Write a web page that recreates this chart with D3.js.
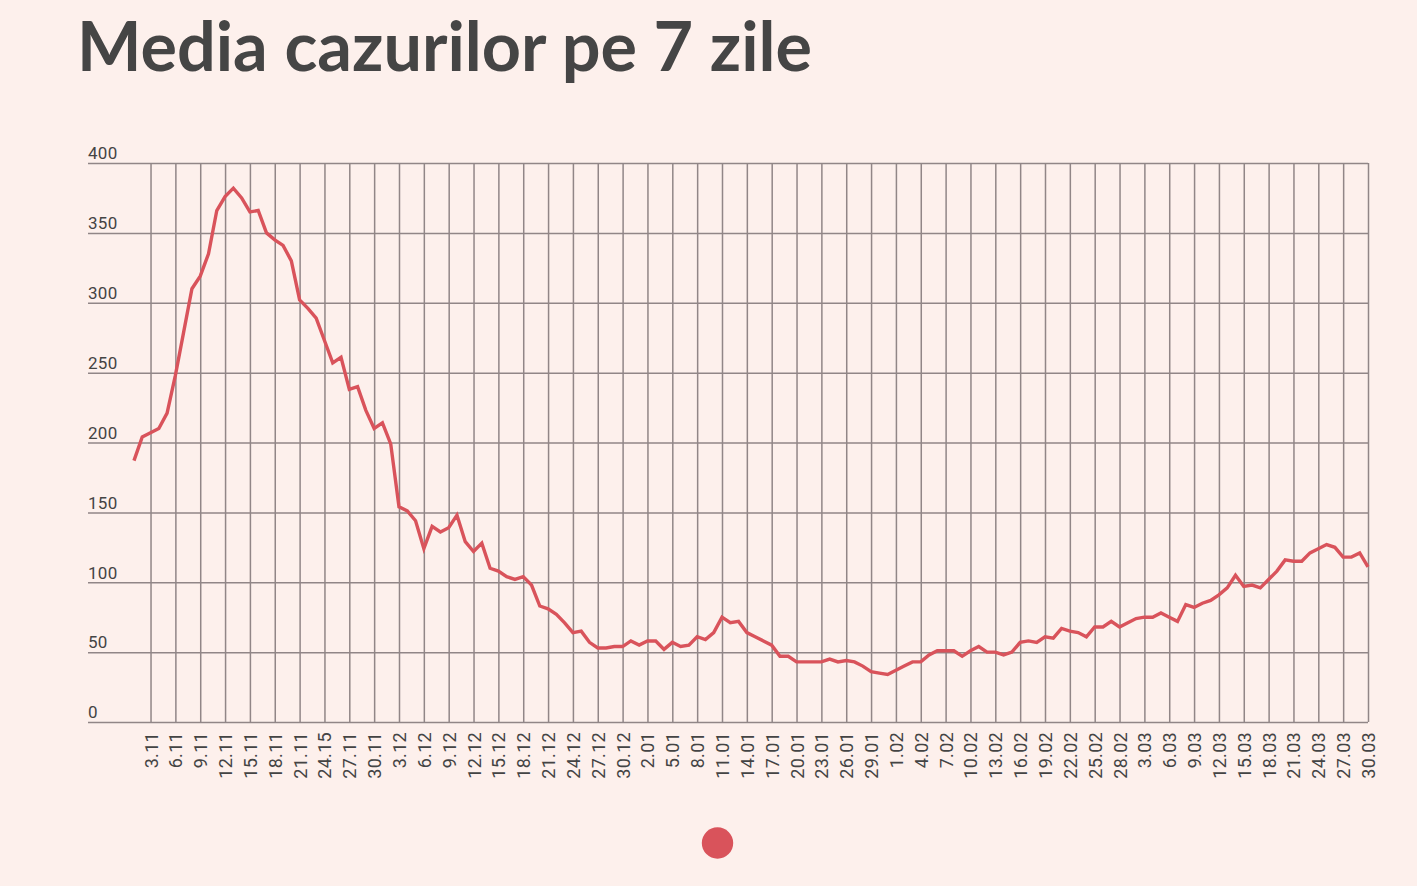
<!DOCTYPE html>
<html>
<head>
<meta charset="utf-8">
<script src="https://cdn.jsdelivr.net/npm/d3@7/dist/d3.min.js"></script>
<style>
  html, body { margin: 0; padding: 0; background: #fdf0ec; }
  svg { display: block; }
</style>
</head>
<body>
<svg id="chart" width="1417" height="886"></svg>
<script>
// ---- data ----
const title = "Media cazurilor pe 7 zile";
const values = [
  187, 204, 207, 210, 221, 248, 279, 310, 319, 335,
  366, 376, 382, 375, 365, 366, 350, 345, 341, 330,
  302, 296, 289, 273, 257, 261, 238, 240, 223, 210,
  214, 199, 154, 151, 144, 124, 140, 136, 139, 148,
  129, 122, 128, 110, 108, 104, 102, 104, 98, 83,
  81, 77, 71, 64, 65, 57, 53, 53, 54, 54,
  58, 55, 58, 58, 52, 57, 54, 55, 61, 59,
  64, 75, 71, 72, 64, 61, 58, 55, 47, 47,
  43, 43, 43, 43, 45, 43, 44, 43, 40, 36,
  35, 34, 37, 40, 43, 43, 48, 51, 51, 51,
  47, 51, 54, 50, 50, 48, 50, 57, 58, 57,
  61, 60, 67, 65, 64, 61, 68, 68, 72, 68,
  71, 74, 75, 75, 78, 75, 72, 84, 82, 85,
  87, 91, 96, 105, 97, 98, 96, 102, 108, 116,
  115, 115, 121, 124, 127, 125, 118, 118, 121, 111
];
const tickLabels = [
  "3.11","6.11","9.11","12.11","15.11","18.11","21.11","24.15","27.11","30.11",
  "3.12","6.12","9.12","12.12","15.12","18.12","21.12","24.12","27.12","30.12",
  "2.01","5.01","8.01","11.01","14.01","17.01","20.01","23.01","26.01","29.01",
  "1.02","4.02","7.02","10.02","13.02","16.02","19.02","22.02","25.02","28.02",
  "3.03","6.03","9.03","12.03","15.03","18.03","21.03","24.03","27.03","30.03"
];
const firstTickIndex = 2;  // 3.11 is the third day of the series (starts 1.11)
const tickStep = 3;        // one label every three days
const yTicks = [0, 50, 100, 150, 200, 250, 300, 350, 400];

// ---- layout ----
const W = 1417, H = 886;
const plot = { left: 88, right: 1368, top: 163, bottom: 722 };
const lineColor = "#d9535b";
const gridColor = "#918687";
const textColor = "#444444";

const svg = d3.select("#chart");
svg.append("rect").attr("width", W).attr("height", H).attr("fill", "#fdf0ec");

const x = d3.scaleLinear().domain([-5.55, values.length - 1]).range([plot.left, plot.right]);
const y = d3.scaleLinear().domain([0, 400]).range([plot.bottom, plot.top]);

const tickIdx = tickLabels.map((_, k) => firstTickIndex + k * tickStep);

// title
const t = svg.append("text")
  .attr("x", 77).attr("y", 71)
  .attr("font-family", "Lato, 'Open Sans', sans-serif")
  .attr("font-weight", 700)
  .attr("font-size", 69)
  .attr("fill", "#454545")
  .text(title);
const tw = t.node().getComputedTextLength();
if (Math.abs(tw - 735) > 4) t.attr("textLength", 735).attr("lengthAdjust", "spacingAndGlyphs");

// horizontal grid + y labels
const yAxis = d3.axisLeft(y).tickValues(yTicks).tickSize(-(plot.right - plot.left)).tickFormat(d3.format("d"));
const gy = svg.append("g").attr("transform", `translate(${plot.left},0)`).call(yAxis);
gy.select(".domain").remove();
gy.selectAll(".tick line").attr("stroke", gridColor).attr("stroke-width", 1.5);
gy.selectAll(".tick text")
  .attr("x", 0).attr("dy", "-0.25em")
  .attr("text-anchor", "start")
  .attr("font-family", "Roboto, sans-serif")
  .attr("font-size", 17)
  .attr("letter-spacing", 0.3)
  .attr("fill", textColor);

// vertical grid + x labels
const xAxis = d3.axisBottom(x).tickValues(tickIdx).tickSize(-(plot.bottom - plot.top))
  .tickFormat((d, i) => tickLabels[i]);
const gx = svg.append("g").attr("transform", `translate(0,${plot.bottom})`).call(xAxis);
gx.select(".domain").remove();
gx.selectAll(".tick line").attr("stroke", gridColor).attr("stroke-width", 1.5);
gx.selectAll(".tick text")
  .attr("transform", "rotate(-90)")
  .attr("x", -10).attr("y", 0).attr("dy", "0.36em")
  .attr("text-anchor", "end")
  .attr("font-family", "Roboto, sans-serif")
  .attr("font-size", 18)
  .attr("letter-spacing", 0.3)
  .attr("fill", textColor);

// line
const line = d3.line().x((d, i) => x(i)).y(d => y(d));
svg.append("path")
  .datum(values)
  .attr("fill", "none")
  .attr("stroke", lineColor)
  .attr("stroke-width", 3.4)
  .attr("stroke-linejoin", "miter")
  .attr("d", line);

// pager dot
svg.append("circle").attr("cx", 717.5).attr("cy", 843).attr("r", 15.7).attr("fill", lineColor);
</script>
</body>
</html>
